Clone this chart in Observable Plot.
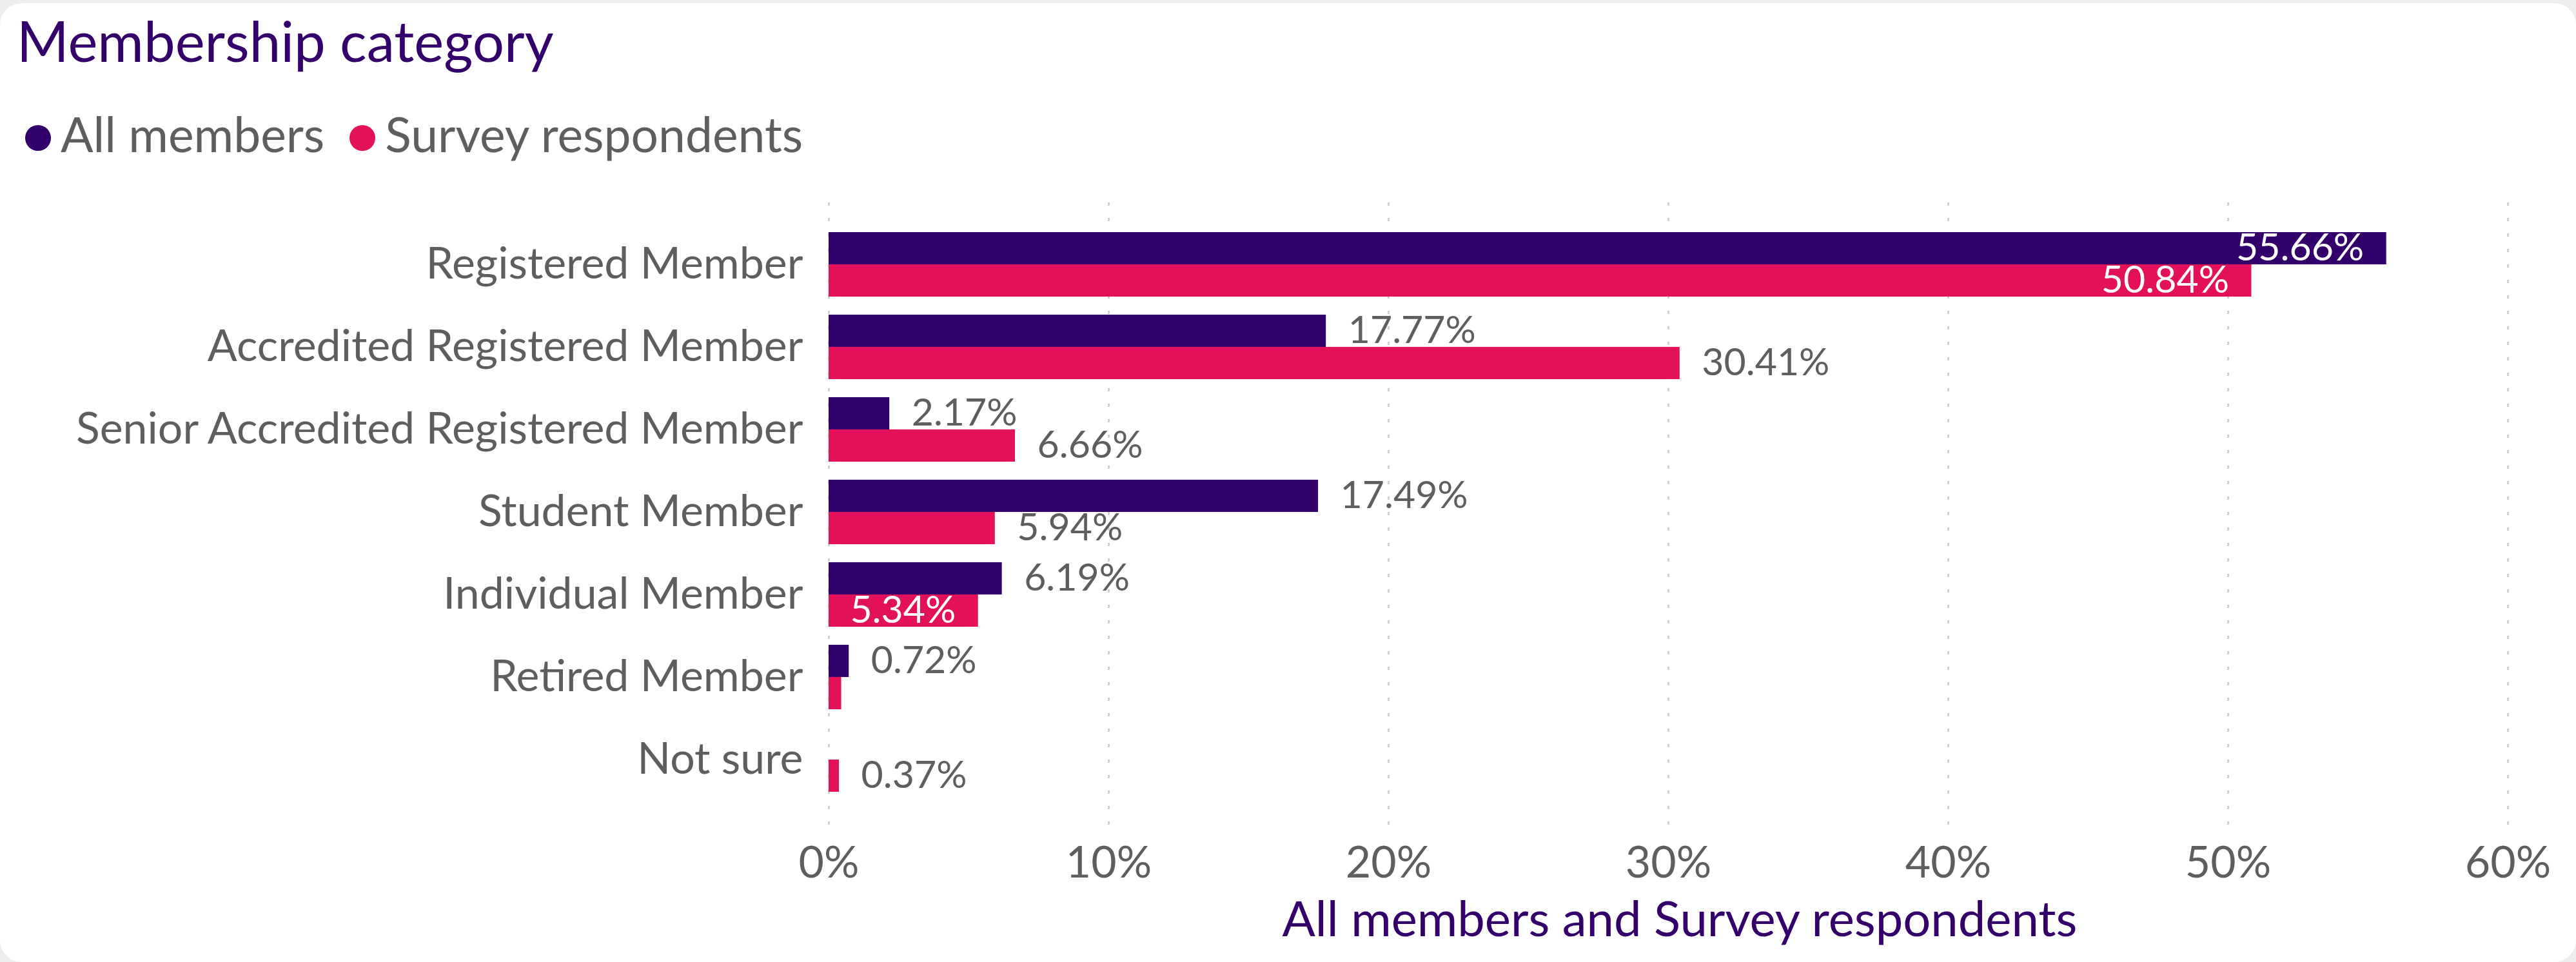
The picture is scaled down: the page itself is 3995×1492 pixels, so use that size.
<!DOCTYPE html>
<html>
<head>
<meta charset="utf-8">
<script src="https://cdn.jsdelivr.net/npm/d3@7"></script>
<script src="https://cdn.jsdelivr.net/npm/@observablehq/plot@0.6"></script>
<style>
  html, body { margin: 0; padding: 0; background: #EDEDEB; }
  #page { position: relative; width: 3995px; height: 1492px; overflow: hidden; font-family: Lato, "Open Sans", sans-serif; }
  #card { position: absolute; left: 0; top: 5px; width: 3995px; height: 1487px; background: #fff; border-radius: 34px; }
  #title { position: absolute; left: 26px; top: 19px; font-size: 87px; line-height: 1; color: #33006B; white-space: nowrap; }
  #legend { position: absolute; left: 39px; top: 170px; display: flex; align-items: center; font-size: 75px; line-height: 1; color: #605E5C; white-space: nowrap; }
  .item { display: flex; align-items: center; margin-right: 39px; }
  .dot { width: 40px; height: 40px; border-radius: 50%; margin-right: 15px; transform: translateY(6px); }
  #chart { position: absolute; left: 0; top: 280px; }
  #xtitle { position: absolute; left: 1285px; width: 2604px; padding-left: 36px; box-sizing: border-box; top: 1385px; text-align: center; font-size: 76px; line-height: 1; color: #33006B; white-space: nowrap; }
</style>
</head>
<body>
<div id="page">
  <div id="card"></div>
  <div id="title">Membership category</div>
  <div id="legend"></div>
  <div id="chart"></div>
  <div id="xtitle">All members and Survey respondents</div>
</div>
<script>
const categories = [
  "Registered Member",
  "Accredited Registered Member",
  "Senior Accredited Registered Member",
  "Student Member",
  "Individual Member",
  "Retired Member",
  "Not sure"
];
const seriesNames = ["All members", "Survey respondents"];
const allMembers = [55.66, 17.77, 2.17, 17.49, 6.19, 0.72, null];
const surveyRespondents = [50.84, 30.41, 6.66, 5.94, 5.34, 0.45, 0.37];
const xTicks = [0, 10, 20, 30, 40, 50, 60];
const seriesColors = ["#33006B", "#E3105A"];
const insideLabels = [
  "Registered Member|All members",
  "Registered Member|Survey respondents",
  "Individual Member|Survey respondents"
];
const hiddenLabels = ["Retired Member|Survey respondents"];

// legend
const legend = document.getElementById("legend");
seriesNames.forEach((name, i) => {
  const item = document.createElement("div");
  item.className = "item";
  const dot = document.createElement("span");
  dot.className = "dot";
  dot.style.background = seriesColors[i];
  const label = document.createElement("span");
  label.textContent = name;
  item.appendChild(dot);
  item.appendChild(label);
  legend.appendChild(item);
});

const seriesValues = [allMembers, surveyRespondents];
const rows = [];
categories.forEach((c, i) => {
  seriesNames.forEach((s, j) => {
    const v = seriesValues[j][i];
    if (v != null) rows.push({category: c, series: s, value: v, key: c + "|" + s});
  });
});

const fmt = d => d.value.toFixed(2) + "%";
function labelMarks(seriesIndex) {
  const s = seriesNames[seriesIndex];
  const dy = seriesIndex === 0 ? -25 : 25;
  const data = rows.filter(d => d.series === s && !hiddenLabels.includes(d.key));
  return [
    Plot.text(data.filter(d => !insideLabels.includes(d.key)), {
      x: "value", y: "category", text: fmt, dx: 34, dy,
      textAnchor: "start", fill: "#605E5C", fontSize: 59
    }),
    Plot.text(data.filter(d => insideLabels.includes(d.key)), {
      x: "value", y: "category", text: fmt, dx: -35, dy,
      textAnchor: "end", fill: "#ffffff", fontSize: 59
    })
  ];
}

const chart = Plot.plot({
  width: 3995,
  height: 1212,
  marginTop: 34,
  marginBottom: 210,
  marginLeft: 1285,
  marginRight: 106,
  style: {fontFamily: "Lato, 'Open Sans', sans-serif", fontSize: "68px", color: "#605E5C", background: "transparent", overflow: "visible"},
  x: {domain: [0, 60], ticks: xTicks, tickFormat: d => d + "%", tickSize: 0, tickPadding: 30, label: null},
  y: {domain: categories, paddingInner: 0.21875, paddingOuter: 0.390625, align: 0.46, tickSize: 0, tickPadding: 40, label: null},
  marks: [
    Plot.ruleX(xTicks, {stroke: "#c8c8c8", strokeWidth: 2.5, strokeDasharray: "5,19"}),
    Plot.barX(rows.filter(d => d.series === seriesNames[0]), {x: "value", y: "category", fill: seriesColors[0], insetBottom: 50}),
    Plot.barX(rows.filter(d => d.series === seriesNames[1]), {x: "value", y: "category", fill: seriesColors[1], insetTop: 50}),
    ...labelMarks(0),
    ...labelMarks(1)
  ]
});
document.getElementById("chart").appendChild(chart);
</script>
</body>
</html>
